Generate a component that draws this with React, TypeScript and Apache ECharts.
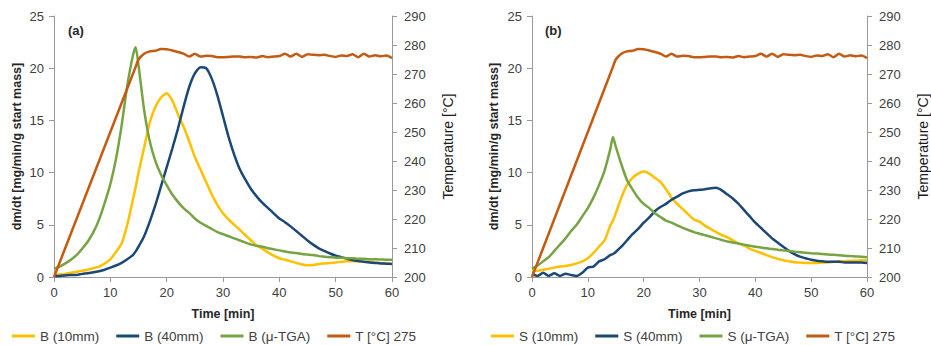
import React, { useEffect, useRef } from "react";
import * as echarts from "echarts";

// time axis [min]
const times = [0,1,2,3,4,5,6,7,8,9,10,11,12,13,14,14.5,15,16,17,18,19,20,21,22,23,24,25,26,27,28,29,30,31,32,33,34,35,36,37,38,39,40,41,42,43,44,45,46,47,48,49,50,51,52,53,54,55,56,57,58,59,60];

// panel (a)
const b10 = [0.2,0.25,0.3,0.4,0.5,0.6,0.7,0.85,1.0,1.3,1.7,2.4,3.2,5.0,7.4,8.6,10.0,12.4,14.8,16.3,17.2,17.6,16.9,15.6,14.4,13.0,11.5,10.3,9.1,7.9,6.9,6.1,5.5,5.0,4.5,4.0,3.5,3.0,2.7,2.35,2.05,1.8,1.65,1.5,1.35,1.2,1.12,1.15,1.25,1.3,1.35,1.4,1.45,1.5,1.5,1.5,1.45,1.45,1.4,1.35,1.3,1.25];
const b40 = [0.1,0.1,0.15,0.2,0.2,0.3,0.35,0.45,0.55,0.7,0.9,1.1,1.35,1.7,2.1,2.45,2.9,3.9,5.3,6.9,8.7,10.5,12.3,14.2,16.3,18.2,19.5,20.1,20.0,19.0,17.4,15.4,13.4,11.7,10.3,9.3,8.4,7.7,7.1,6.6,6.1,5.6,5.25,4.85,4.4,3.95,3.5,3.1,2.75,2.5,2.25,2.05,1.9,1.76,1.62,1.52,1.45,1.4,1.35,1.3,1.28,1.25];
const bTga = [0.8,1.0,1.3,1.65,2.1,2.7,3.4,4.3,5.5,7.1,8.9,11.3,14.5,18.3,21.2,22.0,20.3,16.0,13.0,11.1,9.8,8.8,7.9,7.2,6.6,6.15,5.6,5.2,4.9,4.6,4.3,4.1,3.9,3.7,3.5,3.3,3.1,3.0,2.9,2.75,2.65,2.55,2.45,2.35,2.3,2.2,2.15,2.1,2.0,1.95,1.9,1.85,1.85,1.8,1.8,1.75,1.75,1.7,1.7,1.68,1.65,1.65];

// panel (b)
const s10 = [0.6,0.6,0.7,0.8,0.9,1.0,1.05,1.15,1.3,1.5,1.8,2.3,2.9,3.5,4.9,5.4,6.1,7.6,8.8,9.5,9.9,10.1,9.9,9.5,9.1,8.4,7.6,7.0,6.5,6.0,5.5,5.3,4.9,4.6,4.3,4.0,3.8,3.5,3.2,3.0,2.7,2.5,2.3,2.1,1.9,1.75,1.6,1.5,1.42,1.38,1.35,1.33,1.35,1.38,1.4,1.45,1.5,1.5,1.55,1.55,1.6,1.6];
const s40 = [0.3,0.1,0.4,0.1,0.35,0.1,0.3,0.2,0.1,0.4,0.9,1.0,1.5,1.7,2.1,2.2,2.4,2.9,3.5,4.1,4.6,5.2,5.7,6.3,6.7,7.0,7.4,7.7,8.0,8.2,8.3,8.35,8.4,8.5,8.55,8.3,7.9,7.5,7.0,6.4,5.8,5.2,4.7,4.2,3.7,3.3,2.9,2.5,2.2,1.95,1.8,1.65,1.55,1.5,1.45,1.45,1.45,1.4,1.4,1.4,1.38,1.35];
const sTga = [0.8,1.1,1.5,1.9,2.5,3.1,3.7,4.4,5.0,5.8,6.6,7.6,8.8,10.2,12.2,13.4,12.5,10.8,9.3,8.4,7.6,7.0,6.6,6.1,5.75,5.4,5.2,4.95,4.7,4.5,4.3,4.15,4.0,3.85,3.7,3.55,3.4,3.3,3.2,3.1,3.0,2.9,2.82,2.75,2.68,2.6,2.55,2.5,2.43,2.38,2.33,2.28,2.24,2.2,2.16,2.12,2.08,2.04,2.0,1.97,1.94,1.9];

// temperature [°C], same program for both panels
const temp = [200,205,210,215,220,225,230,235,240,245,250,255,260,265,270,272.5,275,277,277.8,278,278.6,278.5,278.1,277.6,277,276,277,276,276.3,276.2,275.8,275.8,275.9,276,276,275.8,275.9,275.7,276.2,275.8,276,276.2,277,276,277,275.9,276.8,276.6,276.5,276.6,276.2,275.9,276.4,276.2,276.8,275.8,277,276,276.5,276.1,276.4,275.5];

const namesA = ["B (10mm)", "B (40mm)", "B (μ-TGA)", "T [°C] 275"];
const namesB = ["S (10mm)", "S (40mm)", "S (μ-TGA)", "T [°C] 275"];
const colors = ["#FFC000", "#1B4876", "#77A443", "#C55A11"];

const pairs = (v: number[]) => times.map((t, i) => [t, v[i]]);

export default function App() {
  const ref = useRef<HTMLDivElement>(null);
  useEffect(() => {
    if (!ref.current) return;
    const chart = echarts.init(ref.current, undefined, { renderer: "svg" });
    const font = "Liberation Sans";
    const axisLine = { show: true, lineStyle: { color: "#9a9a9a", width: 1 } };
    const axisTick = { show: true, length: 5, lineStyle: { color: "#9a9a9a" } };
    const lbl = (margin: number) => ({ fontSize: 13, color: "#404040", fontFamily: font, margin });
    const grids = [
      { left: 54, top: 16, width: 338, height: 261 },
      { left: 532, top: 16, width: 337, height: 261 },
    ];
    const xAxes = [0, 1].map((g) => ({
      type: "value", gridIndex: g, min: 0, max: 60, interval: 10,
      axisLine, axisTick, splitLine: { show: false }, axisLabel: lbl(9),
      name: "Time [min]", nameLocation: "middle", nameGap: 30,
      nameTextStyle: { fontSize: 12.5, fontWeight: "bold", color: "#262626", fontFamily: font },
    }));
    const yAxes: any[] = [];
    [0, 1].forEach((g) => {
      yAxes.push({
        type: "value", gridIndex: g, position: "left", min: 0, max: 25, interval: 5,
        axisLine, axisTick, splitLine: { show: false }, axisLabel: lbl(10),
        name: "dm/dt [mg/min/g start mass]", nameLocation: "middle", nameGap: g === 0 ? 31 : 32,
        nameTextStyle: { fontSize: 12.5, fontWeight: "bold", color: "#262626", fontFamily: font },
      });
      yAxes.push({
        type: "value", gridIndex: g, position: "right", min: 200, max: 290, interval: 10,
        axisLine, axisTick, splitLine: { show: false }, axisLabel: lbl(12),
        name: "Temperature [°C]", nameLocation: "middle", nameGap: 49,
        nameTextStyle: { fontSize: 14, color: "#1a1a1a", fontFamily: font },
      });
    });
    const mk = (name: string, data: number[], g: number, y: number, c: string) => ({
      name, type: "line", xAxisIndex: g, yAxisIndex: y, data: pairs(data),
      showSymbol: false, symbol: "none", smooth: 0.2,
      lineStyle: { width: 2.5, color: c }, itemStyle: { color: c },
    });
    const series = [
      mk(namesA[0], b10, 0, 0, colors[0]),
      mk(namesA[1], b40, 0, 0, colors[1]),
      mk(namesA[2], bTga, 0, 0, colors[2]),
      mk(namesA[3], temp, 0, 1, colors[3]),
      mk(namesB[0], s10, 1, 2, colors[0]),
      mk(namesB[1], s40, 1, 2, colors[1]),
      mk(namesB[2], sTga, 1, 2, colors[2]),
      mk(namesB[3], temp, 1, 3, colors[3]),
    ];
    const legendBase = {
      orient: "horizontal", top: 329, padding: 0, icon: "rect",
      itemWidth: 23, itemHeight: 3, itemGap: 17,
      textStyle: { fontSize: 13.5, color: "#404040", fontFamily: font },
    };
    chart.setOption({
      animation: false,
      grid: grids,
      xAxis: xAxes,
      yAxis: yAxes,
      series,
      legend: [
        { ...legendBase, left: 12, data: namesA },
        { ...legendBase, left: 491, data: namesB },
      ],
      graphic: [
        { type: "text", left: 68, top: 24, style: { text: "(a)", fontSize: 13, fontWeight: "bold", fill: "#262626", fontFamily: font } },
        { type: "text", left: 545, top: 24, style: { text: "(b)", fontSize: 13, fontWeight: "bold", fill: "#262626", fontFamily: font } },
      ],
    });
    return () => chart.dispose();
  }, []);
  return (
    <div
      ref={ref}
      style={{ position: "fixed", left: 0, top: 0, width: 931, height: 345, background: "#fff" }}
    />
  );
}
